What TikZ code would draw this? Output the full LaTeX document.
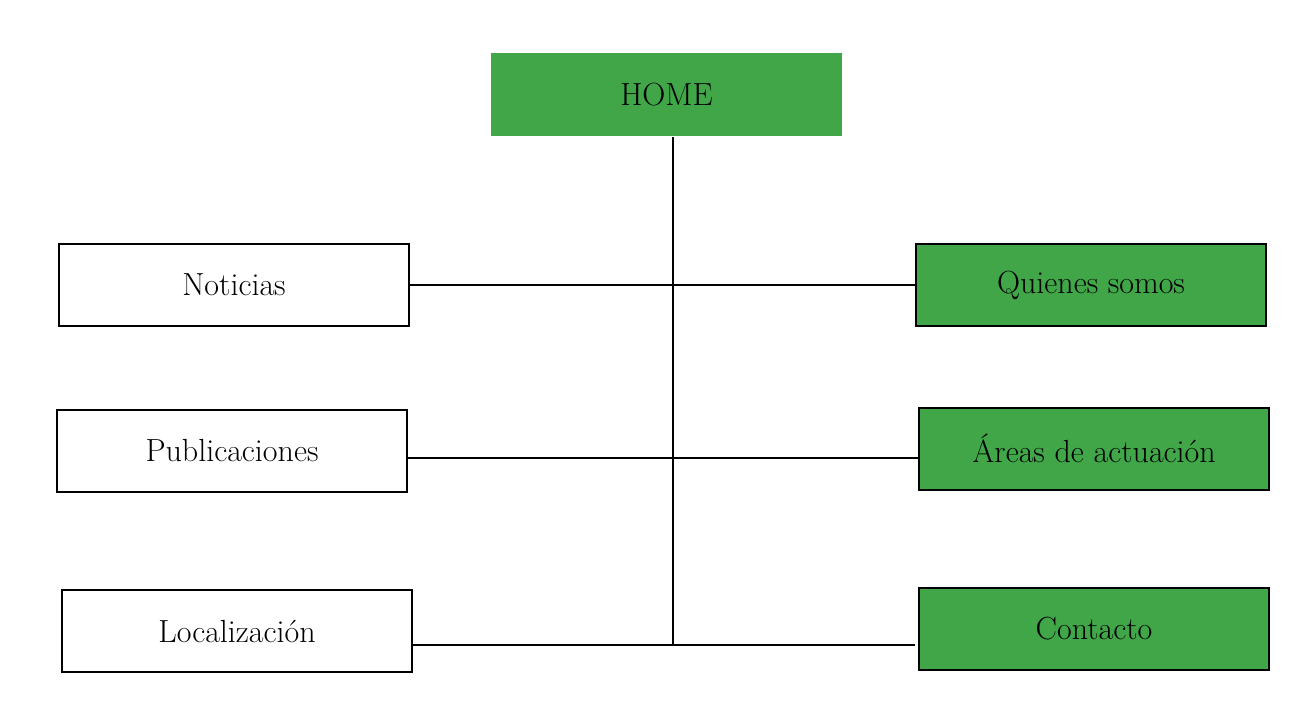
\documentclass[tikz,border=0pt]{standalone}
\usepackage{tikz}
\definecolor{hojaverde}{RGB}{64,166,72}
\begin{document}
\begin{tikzpicture}[x=1pt,y=-1pt,
    caja/.style={draw=black,line width=2pt,minimum width=350pt,minimum height=82pt,inner sep=0pt,font=\fontsize{32}{38}\selectfont},
    cajaverde/.style={caja,fill=hojaverde},
    enlace/.style={line width=2pt}]
            \useasboundingbox (0,0) rectangle (1299,702);
            \node[cajaverde,draw=none,minimum width=351pt,minimum height=83pt] (home) at (666.5,94.5) {HOME};
            \node[caja] (not) at (234,285) {Noticias};
            \node[caja] (pub) at (232,451) {Publicaciones};
            \node[caja] (loc) at (237,631) {Localización};
            \node[cajaverde] (qs) at (1091,285) {Quienes somos};
            \node[cajaverde] (ar) at (1094,448.5) {Áreas de actuación};
            \node[cajaverde] (con) at (1094,628.5) {Contacto};
            \coordinate (eje) at (673,645);

            \draw[enlace] (home.south -| eje) to (eje);
            \draw[enlace] (not.east) to (qs.west);
            \draw[enlace] ([yshift=-7pt]pub.east) to ([yshift=-9.5pt]ar.west);
            \draw[enlace] ([yshift=-14pt]loc.east) to ([yshift=-16.5pt,xshift=-3pt]con.west);
        \end{tikzpicture}
\end{document}
